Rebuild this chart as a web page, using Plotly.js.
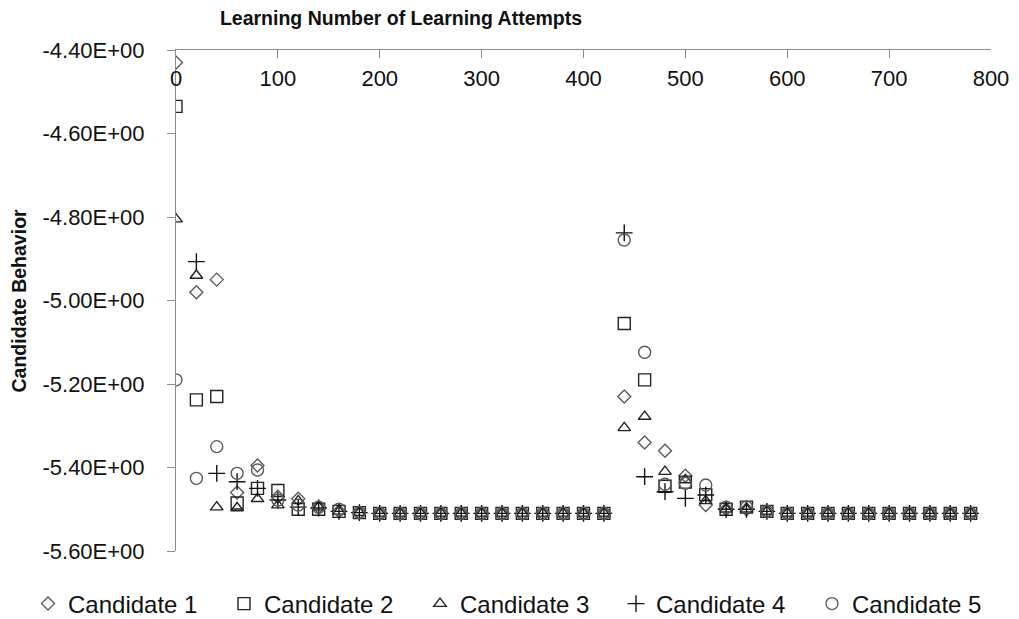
<!DOCTYPE html>
<html>
<head>
<meta charset="utf-8">
<script src="https://cdn.plot.ly/plotly-3.0.1.min.js"></script>
<style>html,body{margin:0;padding:0;background:#fff;}#chart{width:1019px;height:619px;}</style>
</head>
<body>
<div id="chart"></div>
<script>
const attempts = [0,20,40,60,80,100,120,140,160,180,200,220,240,260,280,300,320,340,360,380,400,420,440,460,480,500,520,540,560,580,600,620,640,660,680,700,720,740,760,780];

const candidate1 = [-4.43,-4.98,-4.95,-5.46,-5.395,-5.47,-5.475,-5.495,-5.505,-5.508,
  -5.51,-5.51,-5.51,-5.51,-5.51,-5.51,-5.51,-5.51,-5.51,-5.51,-5.51,-5.51,
  -5.23,-5.34,-5.36,-5.42,-5.49,-5.50,-5.50,-5.505,
  -5.51,-5.51,-5.51,-5.51,-5.51,-5.51,-5.51,-5.51,-5.51,-5.51];
const candidate2 = [-4.535,-5.238,-5.23,-5.485,-5.45,-5.455,-5.50,-5.50,-5.505,-5.508,
  -5.51,-5.51,-5.51,-5.51,-5.51,-5.51,-5.51,-5.51,-5.51,-5.51,-5.51,-5.51,
  -5.055,-5.19,-5.445,-5.435,-5.465,-5.50,-5.495,-5.505,
  -5.51,-5.51,-5.51,-5.51,-5.51,-5.51,-5.51,-5.51,-5.51,-5.51];
const candidate3 = [-4.805,-4.94,-5.495,-5.497,-5.475,-5.49,-5.48,-5.495,-5.505,-5.508,
  -5.51,-5.51,-5.51,-5.51,-5.51,-5.51,-5.51,-5.51,-5.51,-5.51,-5.51,-5.51,
  -5.305,-5.278,-5.41,-5.43,-5.48,-5.50,-5.50,-5.505,
  -5.51,-5.51,-5.51,-5.51,-5.51,-5.51,-5.51,-5.51,-5.51,-5.51];
const candidate4 = [null,-4.907,-5.414,-5.434,-5.45,-5.478,-5.495,-5.497,-5.505,-5.508,
  -5.51,-5.51,-5.51,-5.51,-5.51,-5.51,-5.51,-5.51,-5.51,-5.51,-5.51,-5.51,
  -4.838,-5.422,-5.458,-5.474,-5.466,-5.50,-5.50,-5.505,
  -5.51,-5.51,-5.51,-5.51,-5.51,-5.51,-5.51,-5.51,-5.51,-5.51];
const candidate5 = [-5.19,-5.426,-5.35,-5.414,-5.406,-5.478,-5.49,-5.495,-5.50,-5.508,
  -5.51,-5.51,-5.51,-5.51,-5.51,-5.51,-5.51,-5.51,-5.51,-5.51,-5.51,-5.51,
  -4.855,-5.124,-5.44,-5.438,-5.442,-5.495,-5.495,-5.505,
  -5.51,-5.51,-5.51,-5.51,-5.51,-5.51,-5.51,-5.51,-5.51,-5.51];

const seriesNames = ["Candidate 1","Candidate 2","Candidate 3","Candidate 4","Candidate 5"];
const yTickVals = [-4.4,-4.6,-4.8,-5.0,-5.2,-5.4,-5.6];
const yTickText = ["-4.40E+00","-4.60E+00","-4.80E+00","-5.00E+00","-5.20E+00","-5.40E+00","-5.60E+00"];
const xTickVals = [0,100,200,300,400,500,600,700,800];

const FONT = "'Liberation Sans', Arial, sans-serif";
const styles = [
  {symbol:"diamond-open", size:10, color:"#5a5a5a"},
  {symbol:"square-open", size:12, color:"#222222"},
  {symbol:"triangle-up-open", size:11, color:"#222222"},
  {symbol:"cross-thin-open", size:12, color:"#111111"},
  {symbol:"circle-open", size:12, color:"#5a5a5a"}
];
const allY = [candidate1,candidate2,candidate3,candidate4,candidate5];

const traces = allY.map((ys,i)=>({
  type:"scatter", mode:"markers", name:seriesNames[i],
  x:attempts, y:ys,
  marker:{symbol:styles[i].symbol, size:styles[i].size, color:styles[i].color,
          line:{color:styles[i].color, width:1.4}}
}));

const layout = {
  width:1019, height:619,
  margin:{l:176, r:28, t:50, b:68, autoexpand:false},
  paper_bgcolor:"#fff", plot_bgcolor:"#fff",
  font:{family:FONT, color:"#111", size:22},
  showlegend:true,
  title:{text:"<b>Learning Number of Learning Attempts</b>", font:{family:FONT, size:19.5, color:"#111"},
         x:401/1019, xref:"container", xanchor:"center", y:1-18/619, yref:"container", yanchor:"middle"},
  xaxis:{range:[0,800], side:"top", tickvals:xTickVals, ticks:"inside", ticklen:8, tickcolor:"#8c8c8c",
         showline:true, linecolor:"#8c8c8c", linewidth:1, showgrid:false, zeroline:false,
         ticklabelposition:"inside", ticklabeloverflow:"allow", ticklabelstandoff:14,
         tickfont:{family:FONT, size:22, color:"#111"}},
  yaxis:{range:[-5.6,-4.4], tickvals:yTickVals, ticktext:yTickText, ticks:"outside", ticklen:8, tickcolor:"#8c8c8c",
         showline:true, linecolor:"#8c8c8c", linewidth:1, showgrid:false, zeroline:false,
         ticklabelstandoff:18, tickfont:{family:FONT, size:22, color:"#111"}},
  annotations:[{text:"<b>Candidate Behavior</b>", textangle:-90, xref:"paper", yref:"paper",
                x:(18-176)/815, y:0.5, xanchor:"center", yanchor:"middle", showarrow:false,
                font:{family:FONT, size:19.5, color:"#111"}}],
  legend:{orientation:"h", xref:"paper", yref:"paper", x:(28-176)/815, y:-(604-551)/501,
          xanchor:"left", yanchor:"middle", entrywidth:151, entrywidthmode:"pixels",
          itemwidth:30, font:{family:FONT, size:24, color:"#111"}, bgcolor:"rgba(0,0,0,0)"}
};

Plotly.newPlot("chart", traces, layout, {displayModeBar:false, staticPlot:true});
</script>
</body>
</html>
